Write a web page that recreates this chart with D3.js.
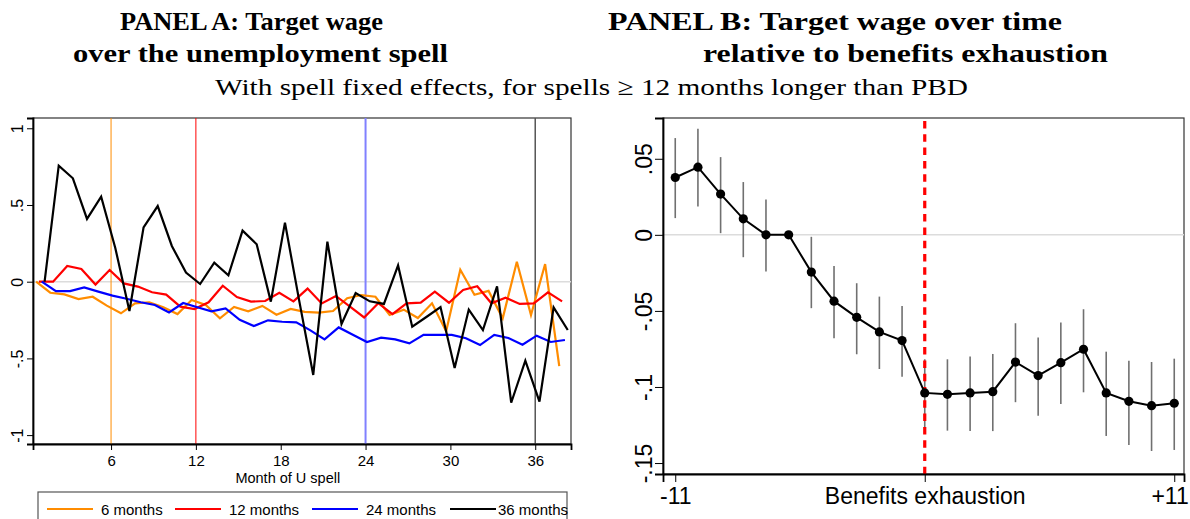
<!DOCTYPE html>
<html>
<head>
<meta charset="utf-8">
<script src="https://cdn.jsdelivr.net/npm/d3@7"></script>
<style>
  body { margin: 0; background: #fff; }
  svg { display: block; }
  .axis text { font-family: "Liberation Sans", Arial, sans-serif; fill: #000; }
  .axis path, .axis line { stroke: #000; }
  .ttl { font-family: "Liberation Serif", "DejaVu Serif", serif; fill: #000; }
</style>
</head>
<body>
<svg id="chart" width="1190" height="519"></svg>
<script>
// Panel A: target wage by month of unemployment spell, one series per PBD
const months = [1, 2, 3, 4, 5, 6, 7, 8, 9, 10, 11, 12, 13, 14, 15, 16, 17, 18, 19,
  20, 21, 22, 23, 24, 25, 26, 27, 28, 29, 30, 31, 32, 33, 34, 35, 36, 37, 38];
const pbd6 = [0, -0.072, -0.083, -0.113, -0.098, -0.156, -0.206, -0.141, -0.134, -0.167,
  -0.211, -0.119, -0.152, -0.239, -0.165, -0.193, -0.158, -0.215, -0.178, -0.197,
  -0.202, -0.191, -0.108, -0.087, -0.098, -0.217, -0.182, -0.237, -0.141, -0.323,
  0.078, -0.085, -0.060, -0.239, 0.130, -0.217, 0.115, -0.550];
const pbd12 = [0, 0, 0.102, 0.083, -0.019, 0.076, -0.011, -0.032, -0.069, -0.084,
  -0.163, -0.178, -0.134, -0.026, -0.100, -0.130, -0.126, -0.072, -0.128, -0.045,
  -0.142, -0.093, -0.163, -0.233, -0.140, -0.211, -0.141, -0.137, -0.065, -0.137,
  -0.054, -0.030, -0.141, -0.104, -0.145, -0.141, -0.070, -0.128];
const pbd24 = [0, -0.061, -0.061, -0.037, -0.065, -0.091, -0.111, -0.134, -0.152, -0.200,
  -0.139, -0.167, -0.193, -0.174, -0.248, -0.289, -0.252, -0.261, -0.265, -0.317,
  -0.376, -0.298, -0.346, -0.393, -0.365, -0.376, -0.402, -0.347, -0.347, -0.347,
  -0.369, -0.413, -0.347, -0.367, -0.411, -0.352, -0.393, -0.380];
const pbd36 = [0, 0.756, 0.674, 0.409, 0.554, 0.220, -0.191, 0.354, 0.493, 0.233,
  0.059, -0.015, 0.124, 0.042, 0.333, 0.244, -0.130, 0.385, -0.120, -0.608,
  0.261, -0.276, -0.074, -0.128, -0.145, 0.106, -0.293, -0.230, -0.165, -0.563,
  -0.182, -0.315, -0.030, -0.789, -0.515, -0.782, -0.167, -0.315];
const seriesLabels = ["6 months", "12 months", "24 months", "36 months"];
const pbdMonths = [6, 12, 24, 36];
const ticksA = [6, 12, 18, 24, 30, 36];
const yTicksA = [1, 0.5, 0, -0.5, -1];
const yTickLabelsA = ["1", ".5", "0", "-.5", "-1"];

// Panel B: target wage relative to benefits exhaustion
const relMonths = [-11, -10, -9, -8, -7, -6, -5, -4, -3, -2, -1, 0,
  1, 2, 3, 4, 5, 6, 7, 8, 9, 10, 11];
const coef = [0.0377, 0.0445, 0.0268, 0.0105, 0.0, 0.0, -0.0245, -0.0436, -0.0542, -0.0638,
  -0.0695, -0.1039, -0.1048, -0.1039, -0.1031, -0.0836, -0.0925, -0.0840, -0.0752, -0.1039,
  -0.1094, -0.1123, -0.1107];
const ciLow = [0.0110, 0.0186, 0.0011, -0.0147, -0.0241, null, -0.0482, -0.0680, -0.0785, -0.0882,
  -0.0932, -0.1270, -0.1287, -0.1290, -0.1290, -0.1100, -0.1189, -0.1112, -0.1035, -0.1322,
  -0.1382, -0.1421, -0.1414];
const ciHigh = [0.0636, 0.0697, 0.0511, 0.0347, 0.0232, null, -0.0013, -0.0204, -0.0318, -0.0406,
  -0.0467, -0.0818, -0.0818, -0.0800, -0.0783, -0.0581, -0.0675, -0.0577, -0.0489, -0.0768,
  -0.0827, -0.0836, -0.0814];
const ticksB = [-11, 0, 11];
const tickLabelsB = ["-11", "Benefits exhaustion", "+11"];
const yTicksB = [0.05, 0, -0.05, -0.1, -0.15];
const yTickLabelsB = [".05", "0", "-.05", "-.1", "-.15"];

// styles
const COLORS = ["#ff8c00", "#ff0000", "#0000ff", "#000000"];
const VLINE_COLORS = ["#ff8c00", "#ff0000", "#8080ff", "#555555"];
const VLINE_WIDTHS = [1, 1, 2, 1.5];
const SHIFT = [-0.3, -0.1, 0.1, 0.3]; // small horizontal dodge per series

const svg = d3.select("#chart");

// ---------- titles ----------
function title(txt, x, y, w, size, weight) {
  svg.append("text").attr("class", "ttl")
    .attr("x", x).attr("y", y)
    .attr("font-size", size).attr("font-weight", weight)
    .attr("textLength", w).attr("lengthAdjust", "spacingAndGlyphs")
    .text(txt);
}
title("PANEL A: Target wage", 120, 30, 263, 25, "bold");
title("over the unemployment spell", 73, 62, 375, 25, "bold");
title("PANEL B: Target wage over time", 608, 30, 454, 25, "bold");
title("relative to benefits exhaustion", 703, 62, 405, 25, "bold");
title("With spell fixed effects, for spells \u2265 12 months longer than PBD", 215, 95, 753, 24, "normal");

// ---------- panel A ----------
const A = { left: 33, right: 571, top: 118, bottom: 444 };
const xA = d3.scaleLinear().domain([0.48, 38.53]).range([A.left, A.right]);
const yA = d3.scaleLinear().domain([-1.058, 1.067]).range([A.bottom, A.top]);

const gA = svg.append("g");
gA.append("rect").attr("x", A.left).attr("y", A.top)
  .attr("width", A.right - A.left).attr("height", A.bottom - A.top)
  .attr("fill", "none").attr("stroke", "#333").attr("stroke-width", 1.2);

gA.append("line").attr("x1", A.left).attr("x2", A.right)
  .attr("y1", yA(0)).attr("y2", yA(0))
  .attr("stroke", "#dcdcdc").attr("stroke-width", 1.5);

pbdMonths.forEach((m, i) => {
  gA.append("line").attr("x1", xA(m)).attr("x2", xA(m))
    .attr("y1", A.top).attr("y2", A.bottom)
    .attr("stroke", VLINE_COLORS[i]).attr("stroke-width", VLINE_WIDTHS[i]);
});

const seriesA = [pbd6, pbd12, pbd24, pbd36];
seriesA.forEach((vals, i) => {
  const line = d3.line()
    .x((d, j) => xA(months[j] + SHIFT[i]))
    .y(d => yA(d));
  gA.append("path").datum(vals)
    .attr("d", line).attr("fill", "none")
    .attr("stroke", COLORS[i]).attr("stroke-width", 2.2)
    .attr("stroke-linejoin", "miter");
});

const axAy = gA.append("g").attr("class", "axis")
  .attr("transform", `translate(${A.left},0)`)
  .call(d3.axisLeft(yA).tickValues(yTicksA).tickSize(6)
    .tickFormat((d, i) => yTickLabelsA[i]));
axAy.select(".domain").attr("stroke-width", 1.8);
axAy.selectAll("text").attr("font-size", 16)
  .attr("transform", "rotate(-90)").attr("x", 0).attr("y", -10)
  .attr("dy", 0).attr("text-anchor", "middle");

const axAx = gA.append("g").attr("class", "axis")
  .attr("transform", `translate(0,${A.bottom})`)
  .call(d3.axisBottom(xA).tickValues(ticksA).tickSize(6).tickFormat(d3.format("d")));
axAx.select(".domain").attr("stroke-width", 1.8);
axAx.selectAll("text").attr("font-size", 15).attr("y", 10).attr("dy", "0.8em");

gA.append("text").attr("class", "axis-title")
  .attr("x", xA(18.5)).attr("y", 483)
  .attr("text-anchor", "middle")
  .attr("font-family", "Liberation Sans, Arial, sans-serif")
  .attr("font-size", 14.5)
  .text("Month of U spell");

// legend
const leg = gA.append("g");
leg.append("rect").attr("x", 38).attr("y", 492).attr("width", 529).attr("height", 40)
  .attr("fill", "#fff").attr("stroke", "#555").attr("stroke-width", 1.2);
const legX = [47, 175, 312, 450];
seriesLabels.forEach((lab, i) => {
  leg.append("line").attr("x1", legX[i]).attr("x2", legX[i] + 46)
    .attr("y1", 509).attr("y2", 509)
    .attr("stroke", COLORS[i]).attr("stroke-width", 2);
  leg.append("text").attr("x", legX[i] + 54 + (i === 3 ? -6 : 0)).attr("y", 515)
    .attr("font-family", "Liberation Sans, Arial, sans-serif")
    .attr("font-size", 15).text(lab);
});

// ---------- panel B ----------
const B = { left: 663, right: 1184, top: 118, bottom: 474 };
const xB = d3.scaleLinear().domain([-11.54, 11.43]).range([B.left, B.right]);
const yB = d3.scaleLinear().domain([-0.1572, 0.0768]).range([B.bottom, B.top]);
const gB = svg.append("g");

gB.append("rect").attr("x", B.left).attr("y", B.top)
  .attr("width", B.right - B.left).attr("height", B.bottom - B.top)
  .attr("fill", "none").attr("stroke", "#333").attr("stroke-width", 1.2);

gB.append("line").attr("x1", B.left).attr("x2", B.right)
  .attr("y1", yB(0)).attr("y2", yB(0))
  .attr("stroke", "#dcdcdc").attr("stroke-width", 1.5);

// confidence intervals
const ciData = relMonths.map((m, i) => ({ m, lo: ciLow[i], hi: ciHigh[i] }))
  .filter(d => d.lo !== null);
gB.selectAll(".ci").data(ciData).enter().append("line")
  .attr("class", "ci")
  .attr("x1", d => xB(d.m)).attr("x2", d => xB(d.m))
  .attr("y1", d => yB(d.lo)).attr("y2", d => yB(d.hi))
  .attr("stroke", "#707070").attr("stroke-width", 1.6);

// exhaustion marker
gB.append("line").attr("x1", xB(0)).attr("x2", xB(0))
  .attr("y1", B.top + 3).attr("y2", B.bottom)
  .attr("stroke", "#ff0000").attr("stroke-width", 3.2)
  .attr("stroke-dasharray", "7.5,5.8");

const ptsB = relMonths.map((m, i) => ({ m, v: coef[i] }));
gB.append("path").datum(ptsB)
  .attr("d", d3.line().x(d => xB(d.m)).y(d => yB(d.v)))
  .attr("fill", "none").attr("stroke", "#000").attr("stroke-width", 2);
gB.selectAll(".pt").data(ptsB).enter().append("circle")
  .attr("class", "pt")
  .attr("cx", d => xB(d.m)).attr("cy", d => yB(d.v)).attr("r", 4.6)
  .attr("fill", "#000");

const axBy = gB.append("g").attr("class", "axis")
  .attr("transform", `translate(${B.left},0)`)
  .call(d3.axisLeft(yB).tickValues(yTicksB).tickSize(8)
    .tickFormat((d, i) => yTickLabelsB[i]));
axBy.select(".domain").attr("stroke-width", 1.8);
axBy.selectAll("text").attr("font-size", 23)
  .attr("transform", "rotate(-90)").attr("x", 0).attr("y", -11)
  .attr("dy", 0).attr("text-anchor", "middle");

const axBx = gB.append("g").attr("class", "axis")
  .attr("transform", `translate(0,${B.bottom})`)
  .call(d3.axisBottom(xB).tickValues(ticksB).tickSize(8)
    .tickFormat((d, i) => tickLabelsB[i]));
axBx.select(".domain").attr("stroke-width", 1.8);
axBx.selectAll("text").attr("font-size", 23).attr("y", 12).attr("dy", "0.8em");
// keep "+11" inside the frame: right-align it to the page edge
axBx.selectAll("text").filter((d, i) => i === ticksB.length - 1)
  .attr("text-anchor", "end").attr("x", 14);
</script>
</body>
</html>
